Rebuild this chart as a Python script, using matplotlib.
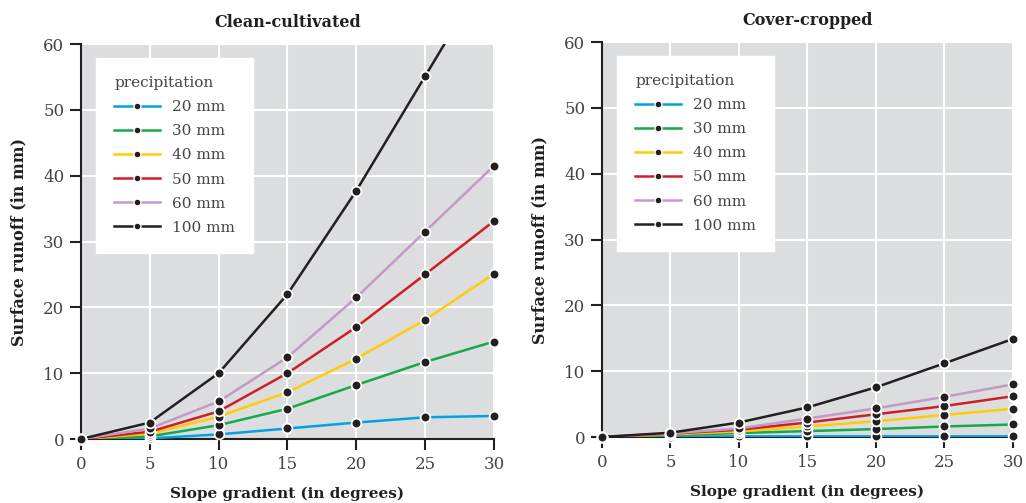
"""Surface runoff vs slope gradient for clean-cultivated and cover-cropped plots."""

import matplotlib.pyplot as plt
from matplotlib.lines import Line2D

plt.rcParams["font.family"] = ["DejaVu Serif"]

slope = [0, 5, 10, 15, 20, 25, 30]
labels = ["20 mm", "30 mm", "40 mm", "50 mm", "60 mm", "100 mm"]
colors = ["#00a3e0", "#17a84a", "#ffcb05", "#cc1f27", "#c29ac6", "#231f20"]

clean = [
    [0, 0.1, 0.7, 1.6, 2.5, 3.3, 3.5],
    [0, 0.4, 2.1, 4.6, 8.2, 11.7, 14.8],
    [0, 0.8, 3.4, 7.1, 12.2, 18.1, 25.1],
    [0, 1.1, 4.2, 10.0, 17.0, 25.0, 33.1],
    [0, 1.6, 5.7, 12.4, 21.5, 31.5, 41.5],
    [0, 2.5, 10.0, 22.0, 37.7, 55.1, 72.5],
]

cover = [
    [0, 0.05, 0.1, 0.1, 0.1, 0.1, 0.1],
    [0, 0.3, 0.6, 0.9, 1.2, 1.6, 1.9],
    [0, 0.4, 0.85, 1.6, 2.4, 3.35, 4.3],
    [0, 0.5, 1.1, 2.2, 3.45, 4.7, 6.2],
    [0, 0.55, 1.3, 2.8, 4.35, 6.1, 8.0],
    [0, 0.65, 2.2, 4.5, 7.55, 11.2, 14.9],
]

fig = plt.figure(figsize=(10.26, 5.03), dpi=100)
ax1 = fig.add_axes([0.0789, 0.1272, 0.4025, 0.7853])
ax2 = fig.add_axes([0.5867, 0.1312, 0.4006, 0.7853])

for ax, data, title in [(ax1, clean, "Clean-cultivated"), (ax2, cover, "Cover-cropped")]:
    ax.set_facecolor("#dcdddf")
    for series, color in zip(data, colors):
        ax.plot(slope, series, color=color, linewidth=1.8, zorder=3)
        # markers drawn unclipped, but only those inside the y range
        pts = [(x, y) for x, y in zip(slope, series) if y <= 60]
        ax.plot([p[0] for p in pts], [p[1] for p in pts], linestyle="none",
                marker="o", markersize=7, markerfacecolor="#231f20",
                markeredgecolor="white", markeredgewidth=1.3, clip_on=False,
                zorder=4)
    ax.set_xlim(0, 30)
    ax.set_ylim(0, 60)
    ax.set_xticks(slope)
    ax.set_yticks([0, 10, 20, 30, 40, 50, 60])
    ax.grid(True, color="white", linewidth=1.5)
    ax.set_axisbelow(True)
    for side in ["top", "right"]:
        ax.spines[side].set_visible(False)
    for side in ["left", "bottom"]:
        ax.spines[side].set_color("#231f20")
        ax.spines[side].set_linewidth(1.5)
    ax.tick_params(direction="out", length=8, width=1.5, color="#231f20",
                   labelsize=12, labelcolor="#444444", pad=4)
    ax.set_title(title, fontsize=11.5, fontweight="bold", color="#231f20", pad=12)
    ax.set_xlabel("Slope gradient (in degrees)", fontsize=11, fontweight="bold",
                  color="#231f20", labelpad=10)
    ax.set_ylabel("Surface runoff (in mm)", fontsize=11.5, fontweight="bold",
                  color="#231f20", labelpad=11)

    handles = [
        Line2D([], [], color=c, linewidth=1.8, marker="o", markersize=5,
               markerfacecolor="#231f20", markeredgecolor="white", markeredgewidth=1.0)
        for c in colors
    ]
    leg = ax.legend(handles, labels, title="precipitation", loc="upper left",
                    bbox_to_anchor=(0.036, 0.965), borderaxespad=0, frameon=True,
                    fancybox=False, framealpha=1, edgecolor="white", fontsize=11,
                    title_fontsize=11, handlelength=3.0, handletextpad=0.8,
                    labelspacing=0.66, borderpad=1.2, labelcolor="#444444")
    leg._legend_box.align = "left"
    leg.get_title().set_color("#444444")

fig.savefig("out.png", dpi=100)
